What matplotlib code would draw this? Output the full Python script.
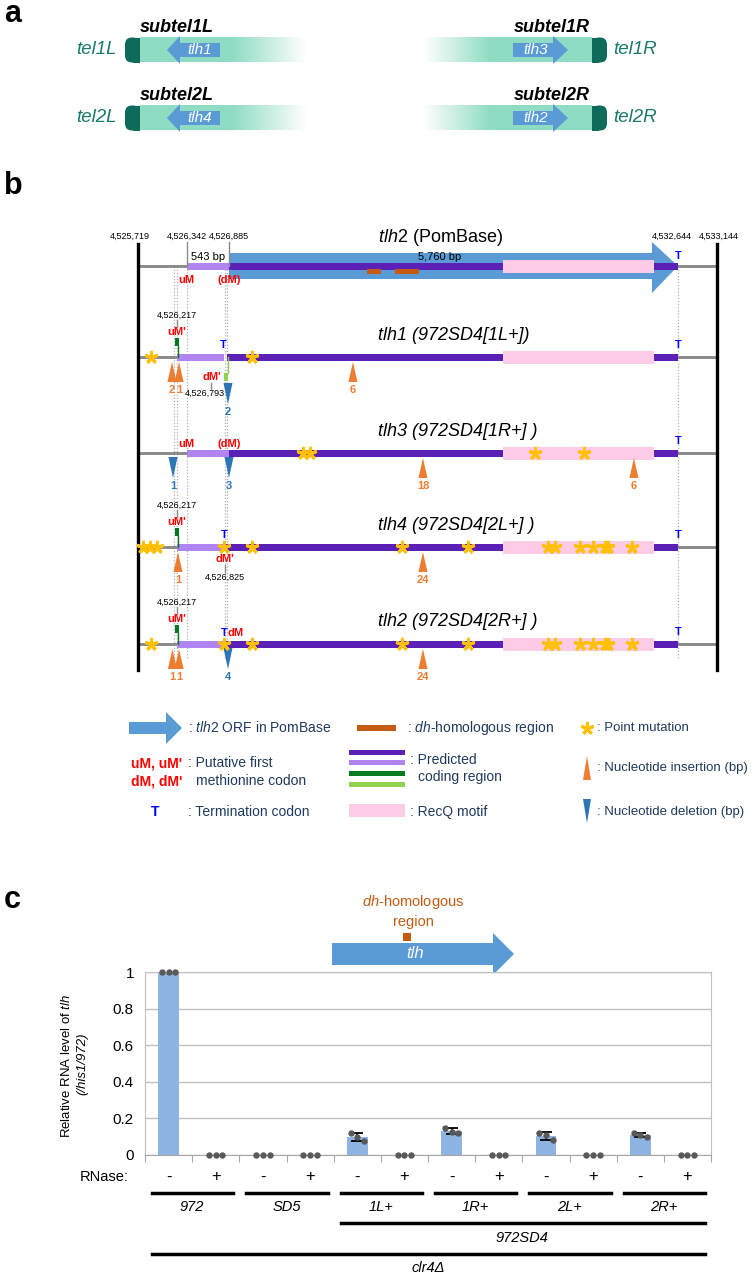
import numpy as np
import matplotlib.pyplot as plt
import matplotlib.transforms as mtransforms
from matplotlib.patches import Rectangle, Polygon, FancyBboxPatch

plt.rcParams['font.family'] = ['Liberation Sans', 'DejaVu Sans']
plt.rcParams['mathtext.fontset'] = 'custom'
plt.rcParams['mathtext.rm'] = 'Liberation Sans'
plt.rcParams['mathtext.it'] = 'Liberation Sans:italic'
plt.rcParams['mathtext.bf'] = 'Liberation Sans:bold'

# ---------------- panel a : subtelomeres
arm_tel = ['tel1L', 'tel1R', 'tel2L', 'tel2R']
arm_subtel = ['subtel1L', 'subtel1R', 'subtel2L', 'subtel2R']
arm_gene = ['tlh1', 'tlh3', 'tlh4', 'tlh2']
arm_side = ['L', 'R', 'L', 'R']

# ---------------- panel b : genomic positions (bp)
region_ends = [4525719, 4533144]
top_marks = [4525719, 4526342, 4526885, 4532644, 4533144]
top_shift = [-100, 0, 0, -80, 20]   # label nudges so the numbers do not collide
pos_uM1 = 4526217
pos_uM = 4526342
pos_dM = 4526885
pos_stop = 4532644
orf_head = 4532310
recq = [4530399, 4532336]
dh_start = [4528655, 4529014]
dh_end = [4528834, 4529322]
guide_lines = [4526180, 4526217, 4526342, 4526830, 4526862, 4532644]

row_gene = ['tlh1', 'tlh3', 'tlh4', 'tlh2']
row_strain = ['972SD4[1L+]', '972SD4[1R+] ', '972SD4[2L+] ', '972SD4[2R+] ']
row_light_start = [4526217, 4526342, 4526217, 4526217]
row_light_end = [4526821, 4526885, 4526850, 4526821]
row_dark_start = [4526860, 4526885, 4526850, 4526821]
row_stars = [
    [4525885, 4527180],
    [4527834, 4527924, 4530810, 4531438],
    [4525782, 4525872, 4525962, 4526821, 4527180, 4529104, 4529950,
     4530976, 4531066, 4531387, 4531553, 4531707, 4531746, 4532054],
    [4525885, 4526821, 4527180, 4529104, 4529950,
     4530976, 4531066, 4531387, 4531553, 4531707, 4531746, 4532054],
]
row_ins_pos = [[4526154, 4526245, 4528475], [4529373, 4532079],
               [4526231, 4529373], [4526160, 4526245, 4529373]]
row_ins_bp = [['2', '1', '6'], ['18', '6'], ['1', '24'], ['1', '1', '24']]
row_del_pos = [[4526872], [4526167, 4526885], [], [4526872]]
row_del_bp = [['2'], ['1', '3'], [], ['4']]

# ---------------- panel c : RNA levels
groups = ['972', 'SD5', '1L+', '1R+', '2L+', '2R+']
rnase = ['-', '+'] * 6
reps = [[1.0, 1.0, 1.0], [0, 0, 0],
        [0, 0, 0], [0, 0, 0],
        [0.122, 0.096, 0.078], [0, 0, 0],
        [0.149, 0.127, 0.118], [0, 0, 0],
        [0.122, 0.110, 0.082], [0, 0, 0],
        [0.118, 0.109, 0.100], [0, 0, 0]]

# colours
DARK = '#5b21b6'
LIGHT = '#b084f2'
PINK = '#fdcbe6'
GREY = '#8c8c8c'
STAR = '#ffc000'
INS = '#ed7d31'
DEL = '#2e75b6'
BROWN = '#c55a11'
ARROW = '#5b9bd5'
MINT = '#8fdcc4'
TEAL = '#0e6b5c'
NAVY = '#1f3a5f'

fig = plt.figure(figsize=(7.53, 12.75), dpi=100)

# pixel axes for panel a, legend and schematic bits
axp = fig.add_axes([0, 0, 1, 1])
axp.set_autoscale_on(False)
axp.set_xlim(0, 753)
axp.set_ylim(1275, 0)
axp.axis('off')

# genomic axes for panel b
axb = fig.add_axes([0, 0, 1, 1])
axb.set_autoscale_on(False)
axb.set_xlim(4523948, 4533606)
axb.set_ylim(1275, 0)
axb.axis('off')

for lab, yy in zip(['a', 'b', 'c'], [14, 186, 900]):
    axp.text(4, yy, lab, fontsize=22, fontweight='bold', va='center')

# ---------------- panel a
arm_y = [50, 50, 118, 118]
for tel, sub, gene, side, y in zip(arm_tel, arm_subtel, arm_gene, arm_side, arm_y):
    if side == 'L':
        xs = np.linspace(140, 307, 200)
        alpha = np.clip((307 - xs) / (307 - 233), 0, 1)
        cap_x, sq_x = 125, 133
        tip, hb, be = 167, 180, 220
        axp.text(117, y, tel, color='#1a7a6a', fontsize=13.5, style='italic', ha='right', va='center')
        axp.text(177, y - 23, sub, fontsize=13, fontweight='bold', style='italic', ha='center', va='center')
        ext = (140, 307, y + 12.5, y - 12.5)
        txt_x = 200
    else:
        xs = np.linspace(423, 592, 200)
        alpha = np.clip((xs - 423) / (490 - 423), 0, 1)
        cap_x, sq_x = 592, 592
        tip, hb, be = 568, 553, 513
        axp.text(613, y, tel, color='#1a7a6a', fontsize=13.5, style='italic', ha='left', va='center')
        axp.text(552, y - 23, sub, fontsize=13, fontweight='bold', style='italic', ha='center', va='center')
        ext = (423, 592, y + 12.5, y - 12.5)
        txt_x = 536
    rgba = np.zeros((1, len(xs), 4))
    rgba[..., :3] = plt.matplotlib.colors.to_rgb(MINT)
    rgba[0, :, 3] = alpha
    axp.imshow(rgba, extent=ext, aspect='auto', interpolation='bilinear', zorder=1)
    axp.add_patch(FancyBboxPatch((cap_x, y - 12.5), 15, 25,
                                 boxstyle='round,pad=0,rounding_size=7',
                                 facecolor=TEAL, edgecolor='none', zorder=2))
    axp.add_patch(Rectangle((sq_x, y - 12.5), 7, 25, facecolor=TEAL, edgecolor='none', zorder=2))
    axp.add_patch(Polygon([(tip, y), (hb, y - 14), (hb, y - 7), (be, y - 7),
                           (be, y + 7), (hb, y + 7), (hb, y + 14)],
                          facecolor=ARROW, edgecolor='none', zorder=3))
    axp.text(txt_x, y, gene, color='white', fontsize=11, style='italic',
             ha='center', va='center', zorder=4)


# ---------------- panel b
def band(g0, g1, y, h, color, z=2):
    axb.add_patch(Rectangle((g0, y - h / 2), g1 - g0, h, facecolor=color,
                            edgecolor='none', zorder=z))


def tri(g, y_apex, y_base, color, half=58):
    axb.add_patch(Polygon([(g, y_apex), (g - half, y_base), (g + half, y_base)],
                          facecolor=color, edgecolor='none', zorder=5))


def red(g, y, s, ha='center'):
    axb.text(g, y, s, color='red', fontsize=8, fontweight='bold', ha=ha, va='center', zorder=7)


def small(g, y, s):
    axb.text(g, y, s, fontsize=6.5, ha='center', va='center', zorder=7)


def tick(g, y0, y1):
    axb.plot([g, g], [y0, y1], color=GREY, lw=1, zorder=6)


def uM_mark(y):
    small(pos_uM1, y - 42, '4,526,217')
    tick(pos_uM1, y - 37, y - 30)
    red(pos_uM1, y - 25, "uM'")
    axb.add_patch(Rectangle((pos_uM1 - 30, y - 19), 60, 8, facecolor='#007a1f',
                            edgecolor='none', zorder=6))
    axb.plot([pos_uM1 + 20, pos_uM1 + 20], [y - 11, y], color='#007a1f', lw=1, zorder=6)


for g in region_ends:
    axb.plot([g, g], [244, 670], color='black', lw=2.4, zorder=4)
for g, dx in zip(top_marks, top_shift):
    small(g + dx, 236, format(g, ','))
tick(pos_uM, 242, 266)
tick(pos_dM, 242, 266)
for g in guide_lines:
    axb.plot([g, g], [266, 660], color='#b0b0b0', lw=0.9, ls=(0, (1, 1.5)), zorder=1)

# PomBase row
y0 = 266
band(region_ends[0], pos_uM, y0, 3, GREY)
band(pos_stop, region_ends[1], y0, 3, GREY)
axb.add_patch(Polygon([(pos_dM, y0 - 13), (orf_head, y0 - 13), (orf_head, y0 - 24),
                       (pos_stop, y0), (orf_head, y0 + 27), (orf_head, y0 + 13),
                       (pos_dM, y0 + 13)], facecolor=ARROW, edgecolor='none', zorder=2))
band(pos_uM, pos_dM, y0, 7, LIGHT, 3)
band(pos_dM, pos_stop, y0, 7, DARK, 3)
band(recq[0], recq[1], y0, 13, PINK, 3)
for s, e in zip(dh_start, dh_end):
    band(s, e, y0 + 5.5, 5, BROWN, 4)
axb.text((pos_uM + pos_dM) / 2, 257, '543 bp', fontsize=8, ha='center', va='center', zorder=7)
axb.text(4529591, 257, '5,760 bp', fontsize=8, ha='center', va='center', zorder=7)
axb.text(pos_stop, 256, 'T', color='blue', fontsize=8, fontweight='bold', ha='center', va='center')
red(pos_uM, 280, 'uM')
red(pos_dM, 280, '(dM)')
axb.text(4528796, 237, r'$\it{tlh2}$ (PomBase)', fontsize=13, ha='left', va='center')

row_y = [357, 453, 547, 644]
del_shift = [22, 0, 0, 0]
for i, y in enumerate(row_y):
    band(region_ends[0], row_light_start[i], y, 3, GREY)
    band(row_light_start[i], row_light_end[i], y, 7, LIGHT, 3)
    band(row_dark_start[i], pos_stop, y, 7, DARK, 3)
    band(recq[0], recq[1], y, 13, PINK, 3)
    band(pos_stop, region_ends[1], y, 3, GREY)
    axb.text(pos_stop, y - 12, 'T', color='blue', fontsize=8, fontweight='bold', ha='center', va='center')
    axb.text(4528796, y - 22, row_gene[i] + ' (' + row_strain[i] + ')', fontsize=13,
             style='italic', ha='left', va='center')
    axb.plot(row_stars[i], [y] * len(row_stars[i]), ls='none', marker=(5, 2, 0),
             ms=9.5, mew=2.2, color=STAR, zorder=8)
    for g, s in zip(row_ins_pos[i], row_ins_bp[i]):
        tri(g, y + 5, y + 25, INS)
        axb.text(g, y + 33, s, color=INS, fontsize=8, fontweight='bold', ha='center', va='center')
    for g, s in zip(row_del_pos[i], row_del_bp[i]):
        d = del_shift[i]
        tri(g, y + 25 + d, y + 4 + d, DEL)
        axb.text(g, y + 33 + d, s, color=DEL, fontsize=8, fontweight='bold', ha='center', va='center')

# row specific codon marks
y = row_y[0]
uM_mark(y)
axb.text(4526815, y - 12, 'T', color='blue', fontsize=8, fontweight='bold', ha='center', va='center')
axb.add_patch(Rectangle((4526821, y + 16), 55, 8, facecolor='#92d050', edgecolor='none', zorder=6))
axb.plot([4526872, 4526872], [y, y + 16], color='#92d050', lw=1, zorder=6)
red(4526780, y + 20, "dM'", ha='right')
tick(4526654, y + 26, y + 32)
small(4526577, y + 36, '4,526,793')

y = row_y[1]
red(pos_uM, y - 9, 'uM')
red(pos_dM, y - 9, '(dM)')

y = row_y[2]
uM_mark(y)
axb.text(4526821, y - 12, 'T', color='blue', fontsize=8, fontweight='bold', ha='center', va='center')
red(4526830, y + 12, "dM'")
tick(4526830, y + 18, y + 25)
small(4526830, y + 30, '4,526,825')

y = row_y[3]
uM_mark(y)
axb.text(4526821, y - 11, 'T', color='blue', fontsize=8, fontweight='bold', ha='center', va='center')
red(4526975, y - 11, 'dM')

# ---------------- legend of panel b
axp.add_patch(Polygon([(129, 722), (166, 722), (166, 712), (182, 728), (166, 744),
                       (166, 734), (129, 734)], facecolor=ARROW, edgecolor='none'))
leg_kw = dict(color=NAVY, fontsize=10, va='center', ha='left')
leg_kw2 = dict(color=NAVY, fontsize=9.5, va='center', ha='left')
axp.text(188, 728, r': $\it{tlh2}$ ORF in PomBase', **leg_kw)
axp.add_patch(Rectangle((357, 725), 39, 6, facecolor=BROWN, edgecolor='none'))
axp.text(407, 728, r': $\it{dh}$-homologous region', **leg_kw)
axp.plot([587], [728], marker=(5, 2, 0), ms=9.5, mew=2.2, color=STAR)
axp.text(597, 728, ': Point mutation', **leg_kw2)

axp.text(182, 763, "uM, uM'", color='red', fontsize=10, fontweight='bold', ha='right', va='center')
axp.text(182, 781, "dM, dM'", color='red', fontsize=10, fontweight='bold', ha='right', va='center')
axp.text(188, 763, ': Putative first', **leg_kw)
axp.text(196, 781, 'methionine codon', **leg_kw)
for yy, c in zip([752, 762, 773, 784], [DARK, LIGHT, '#007a1f', '#92d050']):
    axp.add_patch(Rectangle((349, yy - 2.5), 56, 5, facecolor=c, edgecolor='none'))
axp.text(410, 760, ': Predicted', **leg_kw)
axp.text(418, 777, 'coding region', **leg_kw)
axp.add_patch(Polygon([(587, 756), (583, 780), (591, 780)], facecolor=INS, edgecolor='none'))
axp.text(597, 768, ': Nucleotide insertion (bp)', **leg_kw2)

axp.text(155, 812, 'T', color='blue', fontsize=10, fontweight='bold', ha='center', va='center')
axp.text(188, 812, ': Termination codon', **leg_kw)
axp.add_patch(Rectangle((349, 804), 56, 13, facecolor=PINK, edgecolor='none'))
axp.text(410, 812, ': RecQ motif', **leg_kw)
axp.add_patch(Polygon([(583, 799), (591, 799), (587, 823)], facecolor=DEL, edgecolor='none'))
axp.text(597, 812, ': Nucleotide deletion (bp)', **leg_kw2)

# ---------------- panel c
axp.add_patch(Polygon([(332, 943), (493, 943), (493, 933), (514, 954), (493, 975),
                       (493, 965), (332, 965)], facecolor=ARROW, edgecolor='none', zorder=3))
axp.text(415, 954, 'tlh', color='white', fontsize=12, style='italic', ha='center', va='center', zorder=4)
axp.add_patch(Rectangle((403, 933), 8, 8, facecolor=BROWN, edgecolor='none'))
axp.text(413, 902, r'$\it{dh}$-homologous', color=BROWN, fontsize=10.5, ha='center', va='center')
axp.text(413, 922, 'region', color=BROWN, fontsize=10.5, ha='center', va='center')

axc = fig.add_axes([145 / 753, 1 - 1155 / 1275, (711 - 145) / 753, (1155 - 972) / 1275])
xpos = np.arange(len(reps))
vals = np.array(reps)
means = vals.mean(axis=1)
sds = vals.std(axis=1, ddof=1)
axc.bar(xpos, means, width=0.44, color='#8db4e2', zorder=2)
has_err = sds > 0
axc.errorbar(xpos[has_err], means[has_err], yerr=sds[has_err], fmt='none',
             ecolor='black', elinewidth=1.3, capsize=4, capthick=1.3, zorder=3)
for x, r in zip(xpos, reps):
    axc.plot(x + np.array([-0.14, 0, 0.14]), r, ls='none', marker='o', ms=3.6,
             color='#595959', zorder=4, clip_on=False)
axc.set_xlim(-0.5, 11.5)
axc.set_ylim(0, 1)
axc.set_yticks([0, 0.2, 0.4, 0.6, 0.8, 1])
axc.set_yticklabels(['0', '0.2', '0.4', '0.6', '0.8', '1'])
axc.yaxis.grid(True, color='#bfbfbf', lw=1)
axc.set_axisbelow(True)
axc.tick_params(axis='y', length=0, labelsize=11, pad=8)
axc.set_xticks(np.arange(-0.5, 12, 1))
axc.set_xticklabels([])
axc.tick_params(axis='x', length=5, color='#a6a6a6', direction='out')
for sp in axc.spines.values():
    sp.set_color('#bfbfbf')
axc.spines['bottom'].set_color('#a6a6a6')

axp.text(67, 1066, r'Relative RNA level of $\it{tlh}$', rotation=90, fontsize=9.5, ha='center', va='center')
axp.text(82, 1064, '(/his1/972)', rotation=90, fontsize=9.5, style='italic', ha='center', va='center')

tr = mtransforms.blended_transform_factory(axc.transData, axp.transData)
axp.text(104, 1177, 'RNase:', fontsize=10.5, ha='center', va='center')
for x, s in zip(xpos, rnase):
    axp.text(x, 1177, s, transform=tr, fontsize=12, ha='center', va='center')
for k, gname in enumerate(groups):
    axp.plot([2 * k - 0.35, 2 * k + 1.37], [1193, 1193], transform=tr, color='black', lw=2.5)
    axp.text(2 * k + 0.5, 1207, gname, transform=tr, fontsize=10.5, style='italic', ha='center', va='center')
axp.plot([4 - 0.35, 11.37], [1223, 1223], transform=tr, color='black', lw=2.5)
axp.text(7.5, 1238, '972SD4', transform=tr, fontsize=10.5, style='italic', ha='center', va='center')
axp.plot([-0.35, 11.37], [1254, 1254], transform=tr, color='black', lw=2.5)
axp.text(5.5, 1268, 'clr4Δ', transform=tr, fontsize=10.5, style='italic', ha='center', va='center')

fig.savefig('out.png', dpi=100)
